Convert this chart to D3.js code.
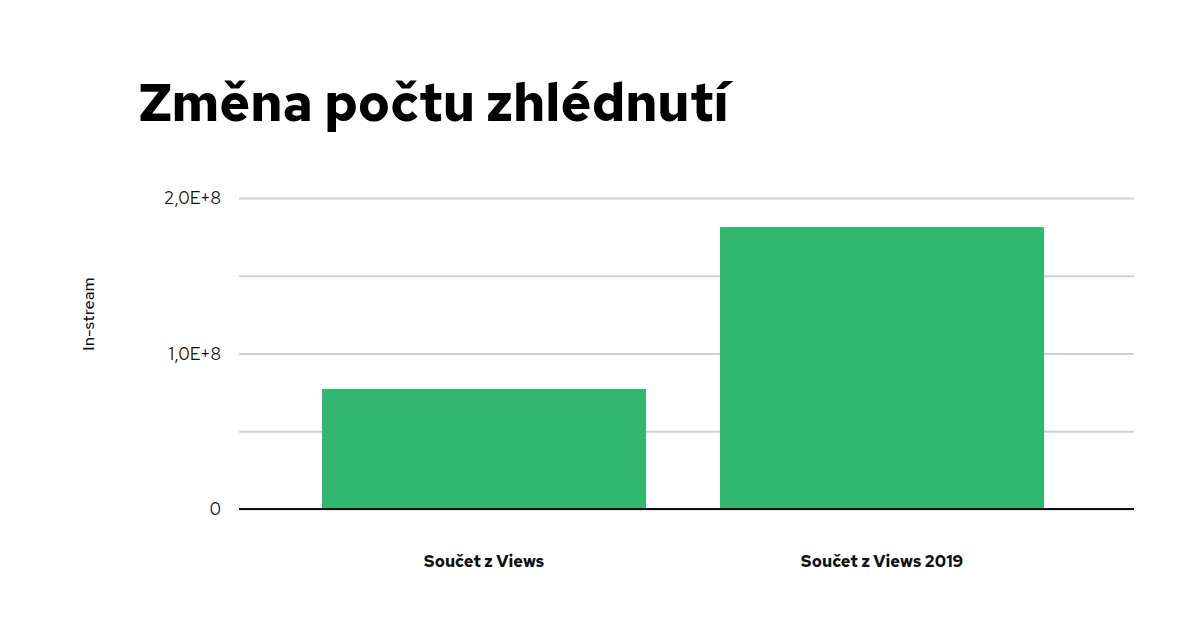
<!DOCTYPE html>
<html>
<head>
<meta charset="utf-8">
<script src="https://cdn.jsdelivr.net/npm/d3@7"></script>
<style>
    body { margin: 0; background: #fff; }
    text { font-family: "Red Hat Text", Lato, "Noto Sans", sans-serif; }
</style>
</head>
<body>
<div id="chart"></div>
<script>
const categories = ["Součet z Views", "Součet z Views 2019"];
const views = [77200000, 181300000];
const yTicks = [0, 50000000, 100000000, 150000000, 200000000];
const yTickLabels = ["0", "", "1,0E+8", "", "2,0E+8"];

const svg = {
    width: 1200,
    height: 628,
    plot: { left: 239, right: 1134, top: 198, bottom: 509 }
};

const chart = d3.select("#chart")
    .append("svg")
    .attr("width", svg.width)
    .attr("height", svg.height);

const xScale = d3.scaleBand()
    .domain(categories)
    .range([322, 1044])
    .paddingInner(0.186)
    .paddingOuter(0);

const yScale = d3.scaleLinear()
    .domain([0, 200000000])
    .range([svg.plot.bottom, svg.plot.top]);

// title
chart.append("text")
    .attr("x", 139)
    .attr("y", 121)
    .attr("font-size", 52.3)
    .attr("font-weight", 900)
    .attr("fill", "#000")
    .text("Změna počtu zhlédnutí");

// gridlines + y labels
const yAxis = d3.axisLeft(yScale)
    .tickValues(yTicks)
    .tickSize(-(svg.plot.right - svg.plot.left))
    .tickPadding(18)
    .tickFormat((d, i) => yTickLabels[i]);

chart.append("g")
    .attr("class", "axis y")
    .attr("transform", `translate(${svg.plot.left},0)`)
    .call(yAxis)
    .call(g => g.select(".domain").remove())
    .call(g => g.selectAll(".tick line").attr("stroke", "#d0d0d0").attr("stroke-width", 2))
    .call(g => g.selectAll(".tick text")
        .attr("font-size", 17.5)
        .attr("fill", "#111")
        .attr("font-family", "\"Red Hat Text\", Lato, \"Noto Sans\", sans-serif"));

// bars
chart.append("g")
    .selectAll("rect")
    .data(views)
    .join("rect")
    .attr("x", (d, i) => xScale(categories[i]))
    .attr("width", xScale.bandwidth())
    .attr("y", d => yScale(d))
    .attr("height", d => yScale(0) - yScale(d))
    .attr("fill", "#32b770");

// baseline
chart.append("line")
    .attr("x1", svg.plot.left)
    .attr("x2", svg.plot.right)
    .attr("y1", yScale(0))
    .attr("y2", yScale(0))
    .attr("stroke", "#111")
    .attr("stroke-width", 2);

// x labels
const xAxis = d3.axisBottom(xScale).tickSize(0).tickPadding(46);
chart.append("g")
    .attr("class", "axis x")
    .attr("transform", `translate(0,${yScale(0)})`)
    .call(xAxis)
    .call(g => g.select(".domain").remove())
    .call(g => g.selectAll(".tick text")
        .attr("font-size", 16.5)
        .attr("font-weight", 700)
        .attr("fill", "#111")
        .attr("font-family", "\"Red Hat Text\", Lato, \"Noto Sans\", sans-serif"));

// y axis title
chart.append("text")
    .attr("transform", `translate(94,314) rotate(-90)`)
    .attr("text-anchor", "middle")
    .attr("font-size", 16.5)
    .attr("font-weight", 500)
    .attr("fill", "#111")
    .text("In-stream");
</script>
</body>
</html>
